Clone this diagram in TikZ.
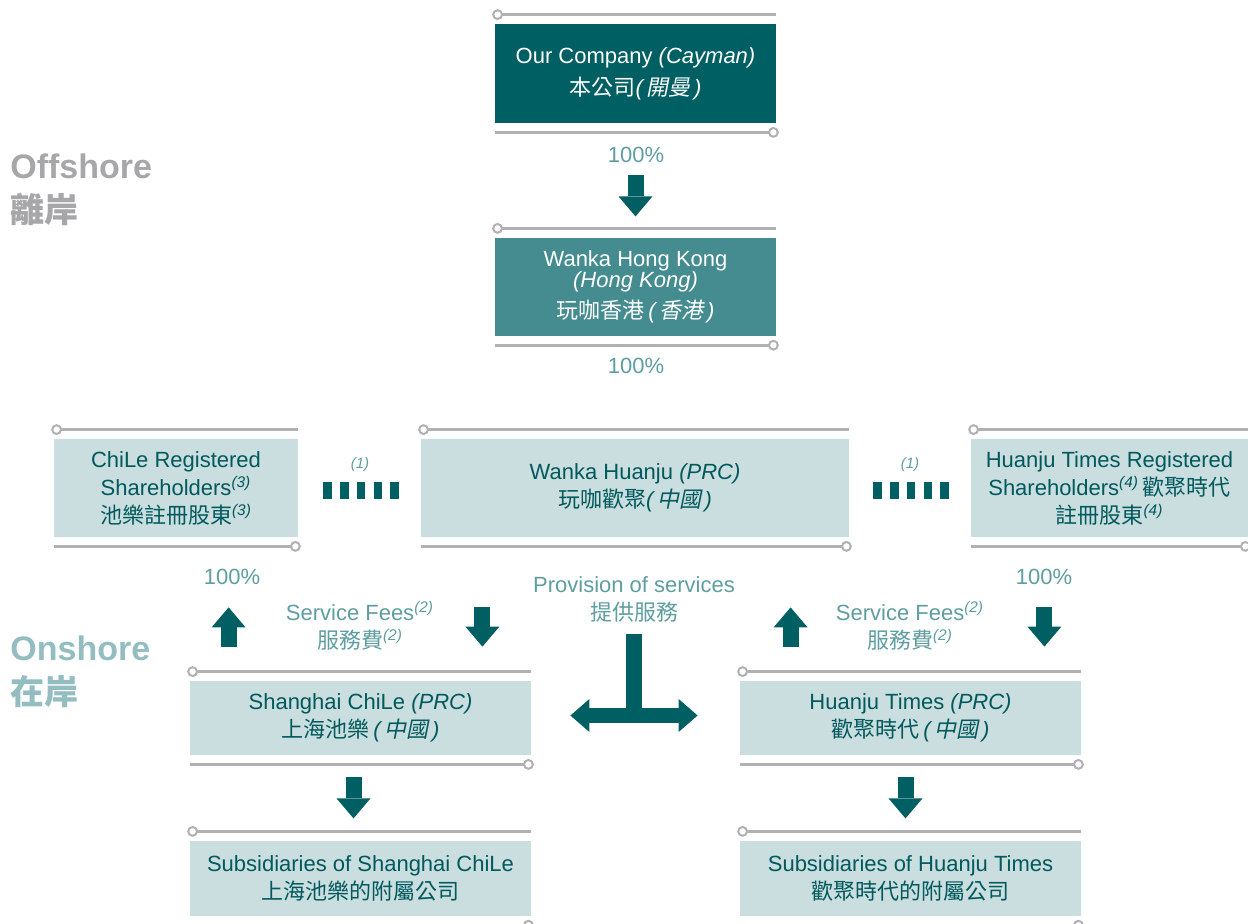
\documentclass[tikz,border=0pt]{standalone}
\usepackage{fontspec}
\setmainfont{Liberation Sans}
\newfontfamily\cjk{Noto Sans CJK TC}
\newfontfamily\cjksl{Noto Sans CJK TC}[FakeSlant=0.2]
\usetikzlibrary{positioning,arrows.meta,calc}

\definecolor{darkteal}{HTML}{005F63}
\definecolor{midteal}{HTML}{448C8F}
\definecolor{paleteal}{HTML}{CADDDF}
\definecolor{boxtext}{HTML}{00595C}
\definecolor{lbl}{HTML}{5F9EA0}
\definecolor{offgray}{HTML}{A7A7A9}
\definecolor{ongreen}{HTML}{93BDC0}
\definecolor{railgray}{HTML}{B1B1B4}

\newcommand{\boxfont}{\fontsize{11}{14}\selectfont}
\newcommand{\railbox}[1]{%
  \draw[rail] ([yshift=4.5pt]#1.north west) -- ([yshift=4.5pt]#1.north east);
  \draw[railend] ([xshift=1.5pt,yshift=4.5pt]#1.north west) circle (2.2pt);
  \draw[rail] ([yshift=-4.5pt]#1.south west) -- ([yshift=-4.5pt]#1.south east);
  \draw[railend] ([xshift=-1.5pt,yshift=-4.5pt]#1.south east) circle (2.2pt);
}

\begin{document}
\begin{tikzpicture}[x=0.5pt,y=-0.5pt]
\useasboundingbox (0,0) rectangle (1248,924);
% Define styles for boxes, rails and arrows
\tikzstyle{topbox} = [rectangle, fill=darkteal, text=white, minimum width=140.5pt, minimum height=49.5pt, inner sep=0pt, align=center, font=\boxfont]
\tikzstyle{hkbox} = [rectangle, fill=midteal, text=white, minimum width=140.5pt, minimum height=49pt, inner sep=0pt, align=center, font=\boxfont]
\tikzstyle{palebox} = [rectangle, fill=paleteal, text=boxtext, minimum height=49pt, inner sep=0pt, align=center, font=\boxfont]
\tikzstyle{subbox} = [palebox, minimum width=170.5pt, minimum height=37.5pt]
\tikzstyle{pct} = [text=lbl, font=\boxfont, align=center, inner sep=0pt]
\tikzstyle{note} = [text=lbl, font=\fontsize{7.5}{9}\selectfont\itshape, inner sep=0pt]
\tikzstyle{zone} = [font=\fontsize{17}{22}\selectfont\bfseries, align=left, anchor=west, inner sep=0pt]
\tikzstyle{rail} = [draw=railgray, line width=1.5pt]
\tikzstyle{railend} = [draw=railgray, fill=white, line width=1pt]
\tikzstyle{blockarrow} = [draw=darkteal, line width=8pt, -{Triangle[width=17pt,length=10pt,line width=0pt]}]
\tikzstyle{twoway} = [draw=darkteal, line width=7.5pt, {Triangle[width=16.5pt,length=9.5pt,line width=0pt]}-{Triangle[width=16.5pt,length=9.5pt,line width=0pt]}]
\tikzstyle{vie} = [draw=darkteal, line width=8.5pt, dash pattern=on 4.25pt off 4.1pt]

% Zones
\node[zone, text=offgray] (offshore) at (10,190) {Offshore\\{\cjk\bfseries 離岸}};
\node[zone, text=ongreen] (onshore) at (10,671.5) {Onshore\\{\cjk\bfseries 在岸}};

% Nodes
\node[topbox] (company) at (635.5,73.5) {Our Company \textit{(Cayman)}\\[2pt]{\cjk 本公司}\textit{(\,}{\cjksl 開曼}\textit{\,)}};
\node[hkbox, below=57pt of company] (hk) {Wanka Hong Kong\\[-3.5pt]\textit{(Hong Kong)}\\[1.5pt]{\cjk 玩咖香港}\,\textit{(\,}{\cjksl 香港}\textit{\,)}};
\node[palebox, minimum width=214pt] (huanju) at (635,488) {Wanka Huanju \textit{(PRC)}\\{\cjk 玩咖歡聚}\textit{(\,}{\cjksl 中國}\textit{\,)}};
\node[palebox, minimum width=122pt] (chile) at (176,488) {ChiLe Registered\\Shareholders\textsuperscript{\textit{(3)}}\\{\cjk 池樂註冊股東}\textsuperscript{\textit{(3)}}};
\node[palebox, minimum width=138.5pt] (htreg) at (1109.5,488) {Huanju Times Registered\\Shareholders\textsuperscript{\textit{(4)}}\,{\cjk 歡聚時代}\\{\cjk 註冊股東}\textsuperscript{\textit{(4)}}};
\node[palebox, minimum width=170.5pt, minimum height=37pt] (shanghai) at (360.5,718) {Shanghai ChiLe \textit{(PRC)}\\{\cjk 上海池樂}\,\textit{(\,}{\cjksl 中國}\textit{\,)}};
\node[palebox, minimum width=170.5pt, minimum height=37pt] (htimes) at (910.5,718) {Huanju Times \textit{(PRC)}\\{\cjk 歡聚時代}\,\textit{(\,}{\cjksl 中國}\textit{\,)}};
\node[subbox, below=42.5pt of shanghai] (subsh) {Subsidiaries of Shanghai ChiLe\\{\cjk 上海池樂的附屬公司}};
\node[subbox, below=42.5pt of htimes] (subht) {Subsidiaries of Huanju Times\\{\cjk 歡聚時代的附屬公司}};

\railbox{company}
\railbox{hk}
\railbox{huanju}
\railbox{chile}
\railbox{htreg}
\railbox{shanghai}
\railbox{htimes}
\railbox{subsh}
\railbox{subht}

% Labels
\node[pct] (pctA) at (636,155) {100\%};
\node[pct] (pctB) at (636,366) {100\%};
\node[pct] (pctC) at (232,577) {100\%};
\node[pct] (pctD) at (1044,577) {100\%};
\node[pct] (feesL) at (360,626) {Service Fees\textsuperscript{\textit{(2)}}\\{\cjk 服務費}\textsuperscript{\textit{(2)}}};
\node[pct] (feesR) at (910,626) {Service Fees\textsuperscript{\textit{(2)}}\\{\cjk 服務費}\textsuperscript{\textit{(2)}}};
\node[pct] (prov) at (634,599) {Provision of services\\{\cjk 提供服務}};
\node[note] (vieA) at (360,465) {(1)};
\node[note] (vieB) at (910,465) {(1)};

% Edges
\draw[blockarrow, shorten <=26pt, shorten >=10.5pt] (company.south) -- (hk.north);
\draw[vie, shorten <=12.5pt, shorten >=11pt] ([yshift=-1.25pt]chile.east) -- ([yshift=-1.25pt]huanju.west);
\draw[vie, shorten <=12pt, shorten >=11pt] ([yshift=-1.25pt]huanju.east) -- ([yshift=-1.25pt]htreg.west);
\draw[blockarrow, shorten <=17pt, shorten >=35pt] ([xshift=19.5pt]shanghai.north west) -- ([xshift=19.5pt]shanghai.north west |- chile.south);
\draw[blockarrow, shorten <=35pt, shorten >=17pt] ([xshift=-24.5pt]shanghai.north east |- huanju.south) -- ([xshift=-24.5pt]shanghai.north east);
\draw[blockarrow, shorten <=17pt, shorten >=35pt] ([xshift=25.5pt]htimes.north west) -- ([xshift=25.5pt]htimes.north west |- huanju.south);
\draw[blockarrow, shorten <=35pt, shorten >=17pt] ([xshift=-18.5pt]htimes.north east |- htreg.south) -- ([xshift=-18.5pt]htimes.north east);
\draw[blockarrow, shorten <=11pt, shorten >=11pt] ([xshift=-3.5pt]shanghai.south) -- ([xshift=-3.5pt]subsh.north);
\draw[blockarrow, shorten <=11pt, shorten >=11pt] ([xshift=-2.5pt]htimes.south) -- ([xshift=-2.5pt]subht.north);
\coordinate (tjoin) at ($([yshift=1.25pt]shanghai.east)!0.5!([yshift=1.25pt]htimes.west)$);
\draw[twoway, shorten <=19.5pt, shorten >=21pt] ([yshift=1.25pt]shanghai.east) -- ([yshift=1.25pt]htimes.west);
\draw[draw=darkteal, line width=8pt] ([yshift=-6pt]prov.south) -- (prov.south |- tjoin);
\end{tikzpicture}
\end{document}
